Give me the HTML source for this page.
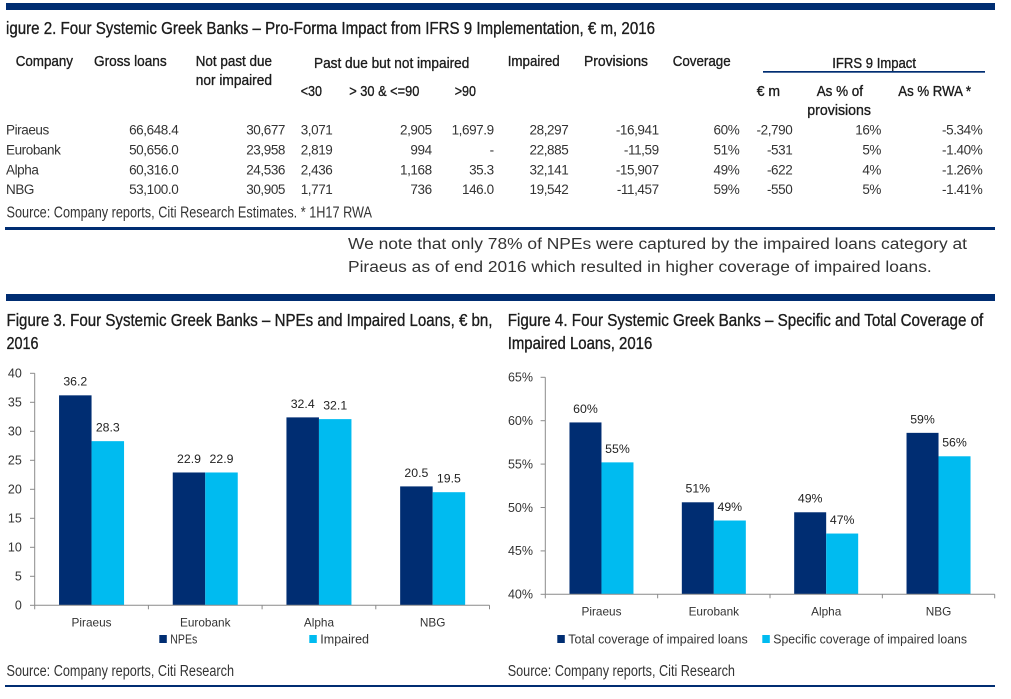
<!DOCTYPE html>
<html lang="en">
<head>
<meta charset="utf-8">
<title>Four Systemic Greek Banks</title>
<style>
html,body{margin:0;padding:0;background:#fff;}
svg{display:block;font-family:"Liberation Sans",Arial,sans-serif;}
.title{font-size:17.5px;fill:#1c1c1c;stroke:#1c1c1c;stroke-width:.35px;}
.hdr{font-size:15px;fill:#1c1c1c;stroke:#1c1c1c;stroke-width:.35px;}
.cell{font-size:13.5px;fill:#333;letter-spacing:-.42px;}
.r{text-anchor:end;}
.src{font-size:15.5px;fill:#333;}
.para{font-size:15.5px;fill:#333;}
.leg{font-size:12.5px;fill:#333;}
.tick{font-size:12.5px;fill:#333;}
.cat{font-size:11.8px;fill:#333;text-anchor:middle;}
.val{font-size:12.3px;fill:#222;text-anchor:middle;}
</style>
</head>
<body>
<svg id="page" xmlns="http://www.w3.org/2000/svg" width="1011" height="699" viewBox="0 0 1011 699">
<rect width="1011" height="699" fill="#fff"/>
<rect x="6" y="3" width="989" height="7" fill="#002d72"/>
<text class="title" x="6" y="34" textLength="649" lengthAdjust="spacingAndGlyphs">igure 2. Four Systemic Greek Banks – Pro-Forma Impact from IFRS 9 Implementation, € m, 2016</text>

<g>
<text class="hdr" x="15.7" y="66" textLength="57.3" lengthAdjust="spacingAndGlyphs">Company</text>
<text class="hdr" x="94" y="66" textLength="72.7" lengthAdjust="spacingAndGlyphs">Gross loans</text>
<text class="hdr" x="195.7" y="66" textLength="76.3" lengthAdjust="spacingAndGlyphs">Not past due</text>
<text class="hdr" x="195.7" y="85" textLength="76.3" lengthAdjust="spacingAndGlyphs">nor impaired</text>
<text class="hdr" x="314" y="68" textLength="155.3" lengthAdjust="spacingAndGlyphs">Past due but not impaired</text>
<text class="hdr" x="300.7" y="96" textLength="21.3" lengthAdjust="spacingAndGlyphs">&lt;30</text>
<text class="hdr" x="349.3" y="96" textLength="70" lengthAdjust="spacingAndGlyphs">&gt; 30 &amp; &lt;=90</text>
<text class="hdr" x="454.7" y="96" textLength="21.3" lengthAdjust="spacingAndGlyphs">&gt;90</text>
<text class="hdr" x="507.7" y="66" textLength="52" lengthAdjust="spacingAndGlyphs">Impaired</text>
<text class="hdr" x="584" y="66" textLength="64" lengthAdjust="spacingAndGlyphs">Provisions</text>
<text class="hdr" x="672.7" y="66" textLength="58" lengthAdjust="spacingAndGlyphs">Coverage</text>
<text class="hdr" x="832.3" y="68" textLength="83.7" lengthAdjust="spacingAndGlyphs">IFRS 9 Impact</text>
<rect x="763" y="71" width="222" height="1.7" fill="#002d72"/>
<text class="hdr" x="756.7" y="96" textLength="23.3" lengthAdjust="spacingAndGlyphs">€ m</text>
<text class="hdr" x="816.7" y="96" textLength="46.3" lengthAdjust="spacingAndGlyphs">As % of</text>
<text class="hdr" x="807.3" y="115" textLength="63.7" lengthAdjust="spacingAndGlyphs">provisions</text>
<text class="hdr" x="898.3" y="96" textLength="72.7" lengthAdjust="spacingAndGlyphs">As % RWA *</text>

<g>
<text class="cell" x="6" y="134.5">Piraeus</text>
<text class="cell r" x="178.3" y="134.5">66,648.4</text>
<text class="cell r" x="285" y="134.5">30,677</text>
<text class="cell" x="300.7" y="134.5">3,071</text>
<text class="cell r" x="431.7" y="134.5">2,905</text>
<text class="cell r" x="493.7" y="134.5">1,697.9</text>
<text class="cell r" x="568.3" y="134.5">28,297</text>
<text class="cell r" x="658.7" y="134.5">-16,941</text>
<text class="cell r" x="739.3" y="134.5">60%</text>
<text class="cell r" x="792.3" y="134.5">-2,790</text>
<text class="cell r" x="881" y="134.5">16%</text>
<text class="cell r" x="982.3" y="134.5">-5.34%</text>
</g>
<g>
<text class="cell" x="6" y="154.5">Eurobank</text>
<text class="cell r" x="178.3" y="154.5">50,656.0</text>
<text class="cell r" x="285" y="154.5">23,958</text>
<text class="cell" x="300.7" y="154.5">2,819</text>
<text class="cell r" x="431.7" y="154.5">994</text>
<text class="cell r" x="493.7" y="154.5">-</text>
<text class="cell r" x="568.3" y="154.5">22,885</text>
<text class="cell r" x="658.7" y="154.5">-11,59</text>
<text class="cell r" x="739.3" y="154.5">51%</text>
<text class="cell r" x="792.3" y="154.5">-531</text>
<text class="cell r" x="881" y="154.5">5%</text>
<text class="cell r" x="982.3" y="154.5">-1.40%</text>
</g>
<g>
<text class="cell" x="6" y="174.3">Alpha</text>
<text class="cell r" x="178.3" y="174.3">60,316.0</text>
<text class="cell r" x="285" y="174.3">24,536</text>
<text class="cell" x="300.7" y="174.3">2,436</text>
<text class="cell r" x="431.7" y="174.3">1,168</text>
<text class="cell r" x="493.7" y="174.3">35.3</text>
<text class="cell r" x="568.3" y="174.3">32,141</text>
<text class="cell r" x="658.7" y="174.3">-15,907</text>
<text class="cell r" x="739.3" y="174.3">49%</text>
<text class="cell r" x="792.3" y="174.3">-622</text>
<text class="cell r" x="881" y="174.3">4%</text>
<text class="cell r" x="982.3" y="174.3">-1.26%</text>
</g>
<g>
<text class="cell" x="6" y="194">NBG</text>
<text class="cell r" x="178.3" y="194">53,100.0</text>
<text class="cell r" x="285" y="194">30,905</text>
<text class="cell" x="300.7" y="194">1,771</text>
<text class="cell r" x="431.7" y="194">736</text>
<text class="cell r" x="493.7" y="194">146.0</text>
<text class="cell r" x="568.3" y="194">19,542</text>
<text class="cell r" x="658.7" y="194">-11,457</text>
<text class="cell r" x="739.3" y="194">59%</text>
<text class="cell r" x="792.3" y="194">-550</text>
<text class="cell r" x="881" y="194">5%</text>
<text class="cell r" x="982.3" y="194">-1.41%</text>
</g>
</g>
<text class="src" x="6.5" y="217.5" textLength="365.5" lengthAdjust="spacingAndGlyphs">Source: Company reports, Citi Research Estimates. * 1H17 RWA</text>
<rect x="5" y="227" width="990" height="3" fill="#002d72"/>

<text class="para" x="348" y="249" textLength="619" lengthAdjust="spacingAndGlyphs">We note that only 78% of NPEs were captured by the impaired loans category at</text>
<text class="para" x="348" y="272" textLength="583.7" lengthAdjust="spacingAndGlyphs">Piraeus as of end 2016 which resulted in higher coverage of impaired loans.</text>

<rect x="6" y="294" width="989" height="7" fill="#002d72"/>

<text class="title" x="6.5" y="326" textLength="486" lengthAdjust="spacingAndGlyphs">Figure 3. Four Systemic Greek Banks – NPEs and Impaired Loans, € bn,</text>
<text class="title" x="6.5" y="349" textLength="32" lengthAdjust="spacingAndGlyphs">2016</text>
<text class="title" x="507.7" y="326" textLength="475.6" lengthAdjust="spacingAndGlyphs">Figure 4. Four Systemic Greek Banks – Specific and Total Coverage of</text>
<text class="title" x="507.7" y="349" textLength="144.6" lengthAdjust="spacingAndGlyphs">Impaired Loans, 2016</text>

<g id="chart3"></g>
<g id="chart4"></g>

<g>
<rect x="159.3" y="635" width="7.5" height="8" fill="#002d72"/>
<text class="leg" x="170.3" y="643.3" textLength="27" lengthAdjust="spacingAndGlyphs">NPEs</text>
<rect x="309.3" y="635" width="7.5" height="8" fill="#00bbf0"/>
<text class="leg" x="320.3" y="643.3" textLength="48.7" lengthAdjust="spacingAndGlyphs">Impaired</text>
</g>
<g>
<rect x="557.3" y="635" width="7.5" height="8" fill="#002d72"/>
<text class="leg" x="568.3" y="643.3" textLength="179.4" lengthAdjust="spacingAndGlyphs">Total coverage of impaired loans</text>
<rect x="762.3" y="635" width="7.5" height="8" fill="#00bbf0"/>
<text class="leg" x="773.3" y="643.3" textLength="193.7" lengthAdjust="spacingAndGlyphs">Specific coverage of impaired loans</text>
</g>

<text class="src" x="6.5" y="676" textLength="227.5" lengthAdjust="spacingAndGlyphs">Source: Company reports, Citi Research</text>
<text class="src" x="507.7" y="676" textLength="227.3" lengthAdjust="spacingAndGlyphs">Source: Company reports, Citi Research</text>
<rect x="5" y="685" width="990" height="2" fill="#002d72"/>
</svg>

<script>
var categories = ['Piraeus', 'Eurobank', 'Alpha', 'NBG'];
var npeValues = [36.2, 22.9, 32.4, 20.5];
var impairedValues = [28.3, 22.9, 32.1, 19.5];
var npeTicks = [0, 5, 10, 15, 20, 25, 30, 35, 40];
var totalCoverage = [59.8, 50.6, 49.45, 58.6];
var specificCoverage = [55.2, 48.5, 47.0, 55.9];
var coverageTicks = [40, 45, 50, 55, 60, 65];

var NS = 'http://www.w3.org/2000/svg';
var NAVY = '#002d72';
var CYAN = '#00bbf0';
var AXIS = '#8a8a8a';

function mk(parent, tag, attrs, text) {
  var el = document.createElementNS(NS, tag);
  for (var k in attrs) { el.setAttribute(k, attrs[k]); }
  if (text !== undefined) { el.textContent = text; }
  parent.appendChild(el);
  return el;
}

function drawChart(root, box, ticks, seriesA, seriesB, fmtTick, fmtVal) {
  var lo = ticks[0];
  var hi = ticks[ticks.length - 1];
  function yScale(v) { return box.bottom - (v - lo) / (hi - lo) * (box.bottom - box.top); }
  var band = (box.right - box.left) / categories.length;
  function xBand(i) { return box.left + i * band; }

  ticks.forEach(function (t) {
    var y = yScale(t);
    var tm = mk(root, 'line', { x1: box.left - 4.7, x2: box.left, y1: y, y2: y, stroke: AXIS, 'stroke-width': 1 });
    
    
    var tl = mk(root, 'text', { x: box.labelRight, y: y + 4.3, 'class': 'tick', 'text-anchor': 'end' }, fmtTick(t));
    
    
  });

  categories.forEach(function (c, i) {
    var bw = box.barWidth;
    var start = xBand(i) + (band - 2 * bw) / 2;
    [[seriesA, NAVY, 0], [seriesB, CYAN, 1]].forEach(function (s) {
      var v = s[0][i];
      var x = start + s[2] * bw;
      var y = yScale(v);
      var b = mk(root, 'rect', { x: x, y: y, width: bw, height: box.bottom - y, fill: s[1] });
      
      
      var l = mk(root, 'text', { x: x + bw / 2, y: y - 9.6, 'class': 'val' }, fmtVal(v));
      
      
    });
    var cl = mk(root, 'text', { x: xBand(i) + band / 2, y: box.catY, 'class': 'cat' }, c);
    
    
  });

  for (var i = 0; i <= categories.length; i++) {
    var bt = mk(root, 'line', { x1: xBand(i), x2: xBand(i), y1: box.bottom, y2: box.bottom + 4, stroke: AXIS, 'stroke-width': 1 });
    
    
  }
  var ya = mk(root, 'line', { x1: box.left, x2: box.left, y1: box.top, y2: box.bottom, stroke: AXIS, 'stroke-width': 1 });
  
  
  var xa = mk(root, 'line', { x1: box.left, x2: box.right, y1: box.bottom, y2: box.bottom, stroke: AXIS, 'stroke-width': 1 });
  
  
}

drawChart(
  document.getElementById('chart3'),
  { left: 34.7, right: 489.5, top: 373.3, bottom: 605.3, barWidth: 32.5, labelRight: 21.8, catY: 626.7 },
  npeTicks, npeValues, impairedValues,
  function (t) { return String(t); },
  function (v) { return v.toFixed(1); }
);
drawChart(
  document.getElementById('chart4'),
  { left: 545.3, right: 994.7, top: 377.3, bottom: 594.3, barWidth: 32, labelRight: 533, catY: 615.7 },
  coverageTicks, totalCoverage, specificCoverage,
  function (t) { return t + '%'; },
  function (v) { return Math.round(v) + '%'; }
);
</script>
</body>
</html>
